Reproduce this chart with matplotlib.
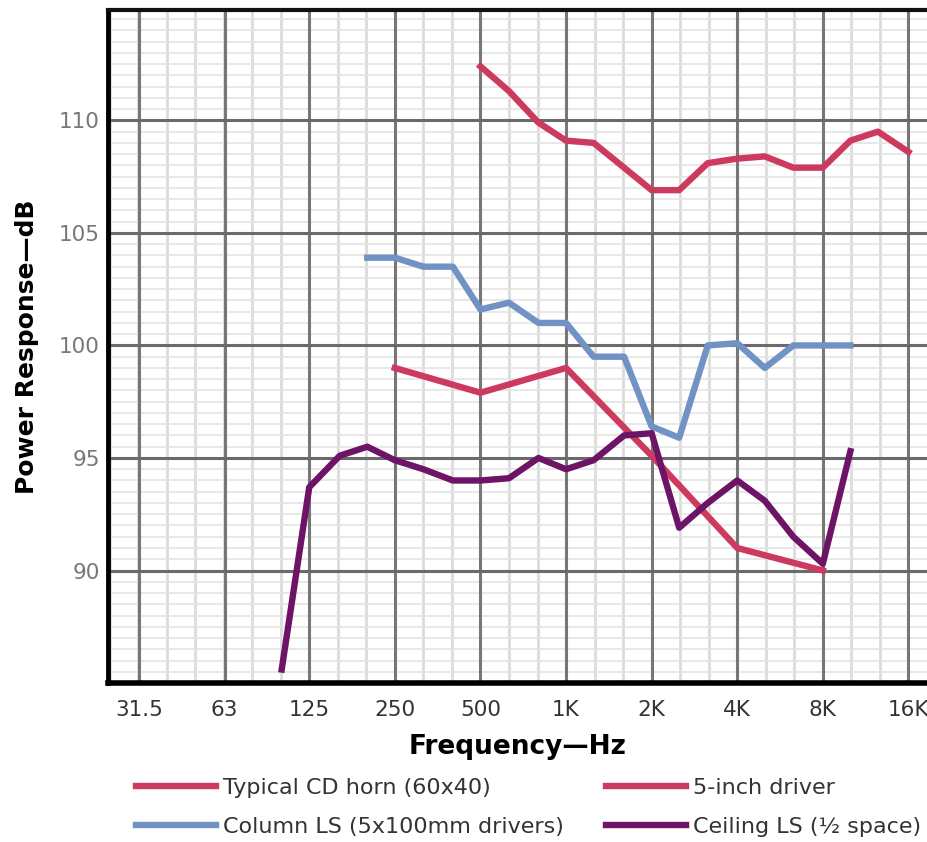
import matplotlib
matplotlib.use("Agg")
import matplotlib.pyplot as plt
from matplotlib.lines import Line2D
import numpy as np

plt.rcParams['font.family'] = ['DejaVu Sans']

# data (frequency in Hz, level in dB)
cd_f = [500, 630, 800, 1000, 1250, 1600, 2000, 2500, 3150, 4000, 5000,
        6300, 8000, 10000, 12500, 16000]
cd_db = [112.4, 111.3, 109.9, 109.1, 109.0, 107.9, 106.9, 106.9, 108.1,
         108.3, 108.4, 107.9, 107.9, 109.1, 109.5, 108.6]

col_f = [200, 250, 315, 400, 500, 630, 800, 1000, 1250, 1600, 2000, 2500,
         3150, 4000, 5000, 6300, 8000, 10000]
col_db = [103.9, 103.9, 103.5, 103.5, 101.6, 101.9, 101.0, 101.0, 99.5,
          99.5, 96.4, 95.9, 100.0, 100.1, 99.0, 100.0, 100.0, 100.0]

drv_f = [250, 500, 1000, 2000, 4000, 8000]
drv_db = [99.0, 97.9, 99.0, 95.1, 91.0, 90.0]

ceil_f = [100, 125, 160, 200, 250, 315, 400, 500, 630, 800, 1000, 1250,
          1600, 2000, 2500, 3150, 4000, 5000, 6300, 8000, 10000]
ceil_db = [85.6, 93.7, 95.1, 95.5, 94.9, 94.5, 94.0, 94.0, 94.1, 95.0, 94.5,
           94.9, 96.0, 96.1, 91.9, 93.0, 94.0, 93.1, 91.5, 90.3, 95.3]

x_ticks = [31.5, 63, 125, 250, 500, 1000, 2000, 4000, 8000, 16000]
x_labels = ['31.5', '63', '125', '250', '500', '1K', '2K', '4K', '8K', '16K']
y_ticks = [90, 95, 100, 105, 110]

red = '#cc3a5e'
blue = '#7092c4'
purple = '#6e1466'

fig = plt.figure(figsize=(9.28, 8.42), dpi=100)
ax = fig.add_axes([0.1164, 0.1888, 0.8836, 0.7992])
ax.set_xscale('log')
ax.set_xlim(24.5, 18750)
ax.set_ylim(85, 114.9)

# background grid: 1/3 octave and 0.5 dB
thirds = 1000 * 2.0 ** (np.arange(-16, 14) / 3)
for f in thirds:
    ax.axvline(f, color='#dcdcdc', lw=2, zorder=0)
for y in np.arange(85, 115, 0.5):
    ax.axhline(y, color='#e4e4e4', lw=1.2, zorder=0)
for f in x_ticks:
    ax.axvline(f, color='#777777', lw=2.2, zorder=1)
for y in y_ticks:
    ax.axhline(y, color='#6a6a6a', lw=2.2, zorder=1)

lw = 4.6
ax.plot(cd_f, cd_db, color=red, lw=lw, zorder=3, solid_joinstyle='round')
ax.plot(col_f, col_db, color=blue, lw=lw, zorder=3, solid_joinstyle='round')
ax.plot(drv_f, drv_db, color=red, lw=lw, zorder=3, solid_joinstyle='round')
ax.plot(ceil_f, ceil_db, color=purple, lw=lw, zorder=4, solid_joinstyle='round')

ax.set_xticks(x_ticks)
ax.set_xticklabels(x_labels)
ax.xaxis.set_minor_locator(matplotlib.ticker.NullLocator())
ax.set_yticks(y_ticks)
ax.tick_params(length=0, labelsize=15.5)
ax.tick_params(axis='x', colors='#333333', pad=12)
ax.tick_params(axis='y', colors='#777777', pad=6)

ax.spines['right'].set_visible(False)
ax.spines['left'].set_linewidth(3.5)
ax.spines['bottom'].set_linewidth(4)
ax.spines['top'].set_linewidth(3)
ax.spines['top'].set_color('#111111')

ax.set_xlabel('Frequency\u2014Hz', fontsize=19, fontweight='bold', labelpad=10)
ax.set_ylabel('Power Response\u2014dB', fontsize=18, fontweight='bold', labelpad=14)

handles = [Line2D([], [], color=red, lw=lw),
           Line2D([], [], color=blue, lw=lw),
           Line2D([], [], color=red, lw=lw),
           Line2D([], [], color=purple, lw=lw)]
labels = ['Typical CD horn (60x40)', 'Column LS (5x100mm drivers)',
          '5-inch driver', 'Ceiling LS (\u00bd space)']
fig.legend(handles, labels, ncol=2, loc='upper left',
           bbox_to_anchor=(0.147, 0.076), frameon=False, fontsize=16,
           handlelength=3.6, handletextpad=0.3, columnspacing=1.9,
           labelspacing=0.85, labelcolor='#333333', borderaxespad=0,
           borderpad=0)

fig.savefig('out.png', dpi=100)
